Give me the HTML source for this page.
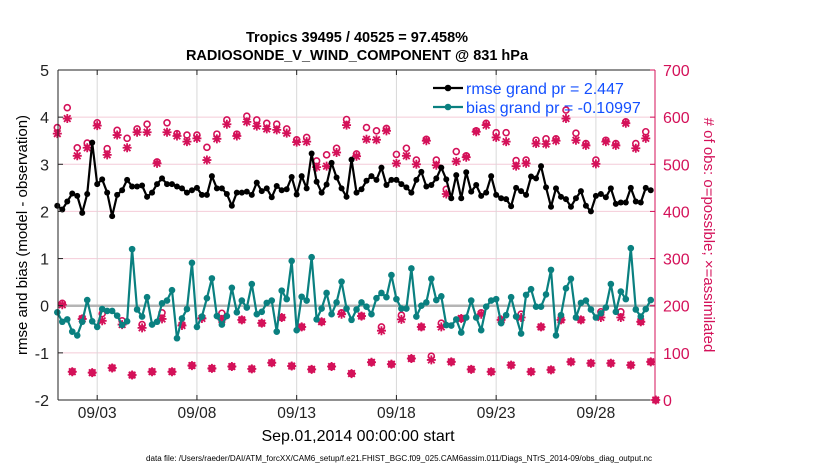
<!DOCTYPE html>
<html><head><meta charset="utf-8"><style>
html,body{margin:0;padding:0;background:#fff;}
svg{display:block;font-family:"Liberation Sans",sans-serif;}
</style></head><body>
<svg id="chart" width="830" height="470" viewBox="0 0 830 470" xmlns="http://www.w3.org/2000/svg">
<rect width="830" height="470" fill="#fff"/>
<text x="357" y="42" text-anchor="middle" font-size="14.5" font-weight="bold">Tropics 39495 / 40525 = 97.458%</text>
<text x="357" y="60" text-anchor="middle" font-size="14.5" font-weight="bold">RADIOSONDE_V_WIND_COMPONENT @ 831 hPa</text>
<g id="grid"></g>
<g id="marks"></g>
<g id="axes"></g>
<text transform="translate(27,235) rotate(-90)" text-anchor="middle" font-size="15">rmse and bias (model - observation)</text>
<text transform="translate(704,235) rotate(90)" text-anchor="middle" font-size="15" fill="#d41159"># of obs: o=possible; ×=assimilated</text>
<text x="358" y="441" text-anchor="middle" font-size="16">Sep.01,2014 00:00:00 start</text>
<text x="399" y="461" text-anchor="middle" font-size="8" textLength="506" lengthAdjust="spacingAndGlyphs">data file: /Users/raeder/DAI/ATM_forcXX/CAM6_setup/f.e21.FHIST_BGC.f09_025.CAM6assim.011/Diags_NTrS_2014-09/obs_diag_output.nc</text>
</svg>
<script>
const xTickLabels = ["09/03","09/08","09/13","09/18","09/23","09/28"];
const xTickIndex = [8,28,48,68,88,108];
const leftTicks = [5,4,3,2,1,0,-1,-2];
const rightTicks = [700,600,500,400,300,200,100,0];
const rmse = [2.12,2.04,2.21,2.38,2.33,1.97,2.37,3.46,2.58,2.68,2.40,1.90,2.35,2.45,2.67,2.53,2.53,2.55,2.31,2.40,2.58,2.70,2.58,2.58,2.53,2.49,2.40,2.45,2.50,2.35,
2.35,2.75,2.49,2.49,2.37,2.12,2.40,2.40,2.42,2.35,2.61,2.43,2.49,2.30,2.54,2.45,2.47,2.73,2.36,2.75,2.49,3.23,2.63,2.40,2.57,3.03,2.72,2.49,2.31,3.10,
2.40,2.47,2.65,2.75,2.67,2.93,2.56,2.67,2.67,2.58,2.51,2.40,2.67,2.84,2.53,2.56,2.70,2.93,2.68,2.28,2.77,2.28,2.83,2.42,2.56,2.33,2.40,2.75,2.35,2.28,
2.26,2.11,2.50,2.43,2.35,2.74,2.70,2.96,2.51,2.10,2.49,2.31,2.26,2.10,2.28,2.43,2.12,2.00,2.33,2.37,2.30,2.49,2.16,2.19,2.19,2.50,2.21,2.19,2.50,2.45];
const bias = [-0.14,-0.34,-0.29,-0.55,-0.63,-0.34,0.12,-0.33,-0.45,-0.07,-0.11,-0.11,-0.21,-0.41,-0.33,1.20,-0.08,-0.23,0.18,-0.40,-0.34,0.05,0.11,0.33,-0.69,-0.27,-0.07,0.91,-0.45,-0.23,
0.16,0.58,-0.22,-0.40,-0.22,0.38,-0.14,0.11,-0.04,0.46,-0.18,-0.13,0.06,0.11,-0.55,0.32,0.14,0.95,-0.52,0.19,0.11,1.03,-0.29,-0.06,0.27,-0.18,0.07,0.51,-0.06,-0.30,
-0.08,0.07,-0.02,-0.18,0.16,0.27,0.18,0.65,0.14,-0.06,-0.06,0.79,-0.23,0.00,0.07,0.57,0.12,0.20,-0.41,-0.42,-0.29,-0.57,-0.25,0.11,-0.25,-0.52,-0.02,0.11,0.14,-0.37,
-0.20,0.18,-0.23,-0.59,0.23,0.35,-0.02,-0.02,0.24,0.76,-0.63,-0.20,0.37,0.57,-0.25,0.06,0.11,-0.08,-0.25,-0.16,-0.04,0.46,-0.13,0.30,0.14,1.22,-0.08,-0.23,-0.07,0.12];
const obsPossible = [578,205,620,60,535,173,545,58,588,183,533,68,572,168,555,53,575,160,585,60,505,185,588,60,565,160,562,73,562,175,
536,67,564,184,594,71,564,170,602,66,594,163,587,79,585,175,575,72,552,155,557,65,507,166,520,71,534,185,595,56,
522,178,578,80,571,155,576,76,521,180,534,88,509,155,553,93,509,163,447,81,527,173,518,65,571,185,587,60,567,170,
567,74,508,182,509,60,551,155,554,64,554,170,615,81,566,170,544,78,509,187,551,78,544,187,590,74,544,166,569,81,0];
const obsAssim = [565,202,597,60,518,172,535,58,582,168,520,68,562,160,535,53,568,153,568,60,502,172,568,60,560,158,548,73,555,173,
509,67,554,171,585,71,560,170,590,66,581,163,575,79,573,175,566,72,547,155,548,65,494,166,496,71,525,182,583,56,
517,178,553,80,552,147,571,76,502,171,518,88,500,155,550,85,498,155,437,81,506,173,515,65,569,182,583,60,557,170,
548,74,496,175,502,60,544,155,543,64,550,170,597,81,551,170,540,78,501,175,548,78,540,175,587,74,534,166,555,81,0];

const NS="http://www.w3.org/2000/svg";
const L=58,R=655,T=70,B=400;
const xIdx=i=>57.3+i*4.987;
const yL=v=>T+(5-v)*(B-T)/7;
const yR=n=>B-n*(B-T)/700;
const C="#d41159";
function mk(tag,attrs,parent){const e=document.createElementNS(NS,tag);for(const k in attrs)e.setAttribute(k,attrs[k]);parent.appendChild(e);return e;}
const grid=document.getElementById('grid'),marks=document.getElementById('marks'),axes=document.getElementById('axes');

rightTicks.forEach(n=>{if(n>0&&n<700){const g=mk('line',{x1:L,x2:R,y1:yR(n),y2:yR(n),stroke:'#f4cbd8','stroke-width':1},grid);

}});
xTickIndex.forEach(i=>{const g=mk('line',{x1:xIdx(i),x2:xIdx(i),y1:T,y2:B,stroke:'#d8d8d8','stroke-width':1},grid);

});
const zl=mk('line',{x1:L,x2:R,y1:yL(0),y2:yL(0),stroke:'#b5b5b5','stroke-width':2.5},grid);



obsPossible.forEach((n,i)=>{const c=mk('circle',{cx:xIdx(i),cy:yR(n),r:3,fill:'none',stroke:C,'stroke-width':1.6},marks);

});
obsAssim.forEach((n,i)=>{const x=xIdx(i),y=yR(n),s=4.5;const g=mk('path',{d:`M${x-s} ${y}H${x+s}M${x} ${y-s}V${y+s}M${x-3.3} ${y-3.3}L${x+3.3} ${y+3.3}M${x-3.3} ${y+3.3}L${x+3.3} ${y-3.3}`,stroke:C,'stroke-width':1.8},marks);

});

function series(vals,color,name,r){
  const p=mk('polyline',{points:vals.map((v,i)=>xIdx(i)+','+yL(v)).join(' '),fill:'none',stroke:color,'stroke-width':2.2,'stroke-linejoin':'round'},marks);
  
  
  vals.forEach((v,i)=>{const c=mk('circle',{cx:xIdx(i),cy:yL(v),r:r,fill:color},marks);
  
  });
}
series(bias,'#0a8080','bias',3.3);
series(rmse,'#000','rmse',3);

let a=mk('line',{x1:L,x2:R,y1:T,y2:T,stroke:'#222','stroke-width':1},axes);


a=mk('line',{x1:L,x2:R,y1:B,y2:B,stroke:'#222','stroke-width':1},axes);


a=mk('line',{x1:L,x2:L,y1:T,y2:B,stroke:'#222','stroke-width':1},axes);


a=mk('line',{x1:R,x2:R,y1:T,y2:B,stroke:C,'stroke-width':1},axes);


leftTicks.forEach(v=>{const y=yL(v);mk('line',{x1:L,x2:L+5,y1:y,y2:y,stroke:'#222'},axes);
const t=mk('text',{x:L-9,y:y+6,'text-anchor':'end','font-size':16,fill:'#222'},axes);t.textContent=v;

});
rightTicks.forEach(n=>{const y=yR(n);mk('line',{x1:R-5,x2:R,y1:y,y2:y,stroke:C},axes);
const t=mk('text',{x:R+8,y:y+6,'text-anchor':'start','font-size':16,fill:C},axes);t.textContent=n;

});
xTickIndex.forEach((i,k)=>{const x=xIdx(i);mk('line',{x1:x,x2:x,y1:B-5,y2:B,stroke:'#222'},axes);mk('line',{x1:x,x2:x,y1:T,y2:T+5,stroke:'#222'},axes);
const t=mk('text',{x:x,y:418,'text-anchor':'middle','font-size':15.5,fill:'#222'},axes);t.textContent=xTickLabels[k];

});

const leg=[['#000','rmse grand pr = 2.447',88,'legend-rmse'],['#0a8080','bias grand pr = -0.10997',107,'legend-bias']];
leg.forEach(d=>{const g=mk('g',{},axes);


mk('line',{x1:433,x2:463,y1:d[2],y2:d[2],stroke:d[0],'stroke-width':2.2},g);
mk('circle',{cx:448,cy:d[2],r:3.3,fill:d[0]},g);
const t=mk('text',{x:466,y:d[2]+6,'font-size':16,fill:'#1450ff'},g);t.textContent=d[1];});
</script>
</body></html>
